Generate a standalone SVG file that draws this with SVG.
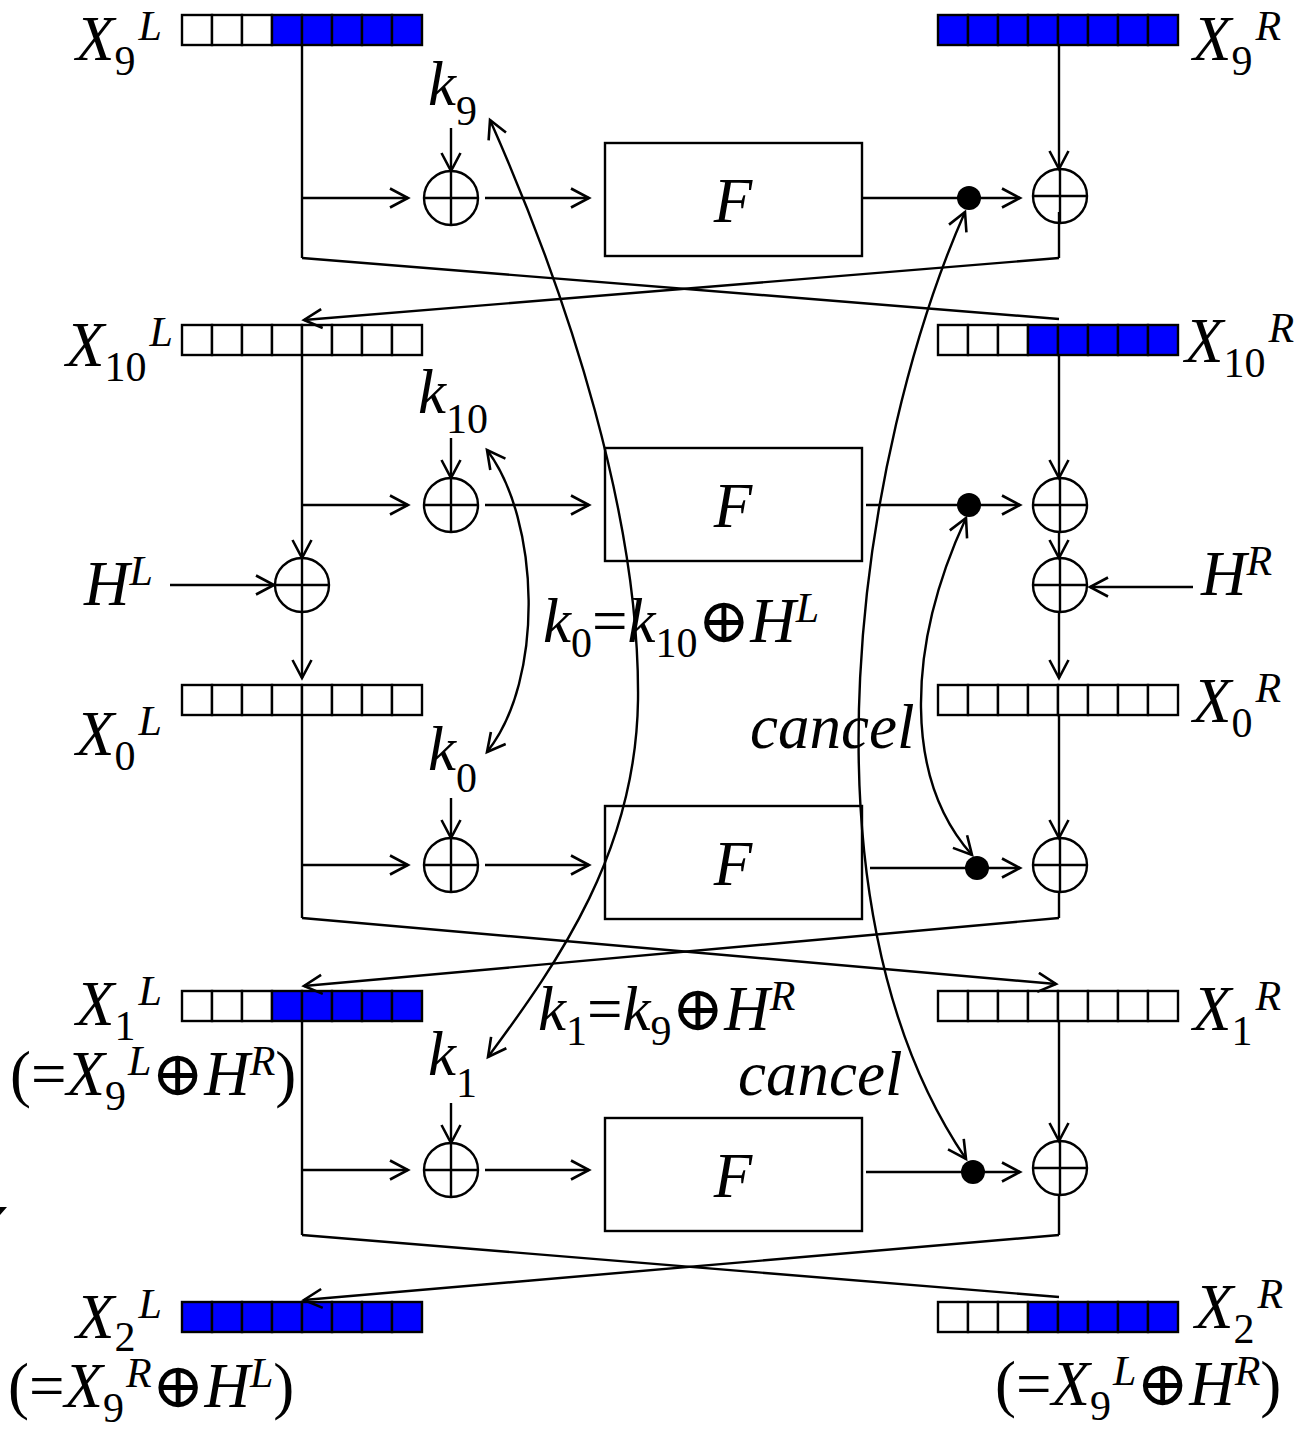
<svg xmlns="http://www.w3.org/2000/svg" width="1307" height="1432" viewBox="0 0 1307 1432">
<style>
.ln{stroke:#000;stroke-width:2.4;fill:none}
.ar{stroke:#000;stroke-width:2.4;fill:none;marker-end:url(#ah)}
.cv{stroke:#000;stroke-width:2.4;fill:none;marker-start:url(#ah);marker-end:url(#ah)}
.w{fill:#fff;stroke:#000;stroke-width:2.4}
.b{fill:#0000ff;stroke:#000;stroke-width:2.4}
.box{fill:#fff;stroke:#000;stroke-width:2.4}
.xo{fill:none;stroke:#000;stroke-width:2.4}
text{font-family:"Liberation Serif","DejaVu Serif",serif;fill:#000}
.m{font-size:63px;font-style:italic}
.r{font-style:normal}
.s{font-size:42px;font-style:normal}
.si{font-size:42px;font-style:italic}
</style>
<defs>
<marker id="ah" viewBox="0 0 22 22" refX="19" refY="11" markerWidth="22" markerHeight="22" markerUnits="userSpaceOnUse" orient="auto-start-reverse">
<path d="M1,1.5 L19,11 L1,20.5" fill="none" stroke="#000" stroke-width="2.6"/>
</marker>
<g id="xor"><circle r="27" class="xo"/><path d="M-27,0 H27 M0,-27 V27" class="xo"/></g>
<g id="w3"><rect x="0" width="30" height="30" class="w"/><rect x="30" width="30" height="30" class="w"/><rect x="60" width="30" height="30" class="w"/></g>
<g id="w5"><rect x="0" width="30" height="30" class="w"/><rect x="30" width="30" height="30" class="w"/><rect x="60" width="30" height="30" class="w"/><rect x="90" width="30" height="30" class="w"/><rect x="120" width="30" height="30" class="w"/></g>
<g id="b5"><rect x="0" width="30" height="30" class="b"/><rect x="30" width="30" height="30" class="b"/><rect x="60" width="30" height="30" class="b"/><rect x="90" width="30" height="30" class="b"/><rect x="120" width="30" height="30" class="b"/></g>
<g id="b3"><rect x="0" width="30" height="30" class="b"/><rect x="30" width="30" height="30" class="b"/><rect x="60" width="30" height="30" class="b"/></g>
</defs>
<rect width="1307" height="1432" fill="#fff"/>

<!-- registers -->
<g id="reg-X9L"><use href="#w3" x="182" y="15"/><use href="#b5" x="272" y="15"/>
<text class="m" x="76" y="60">X<tspan class="s" dy="15">9</tspan><tspan class="si" dx="3" dy="-35">L</tspan></text></g>
<g id="reg-X9R"><use href="#b3" x="938" y="15"/><use href="#b5" x="1028" y="15"/>
<text class="m" x="1193" y="60">X<tspan class="s" dy="15">9</tspan><tspan class="si" dx="3" dy="-35">R</tspan></text></g>
<g id="reg-X10L"><use href="#w3" x="182" y="325"/><use href="#w5" x="272" y="325"/>
<text class="m" x="66" y="366">X<tspan class="s" dy="15">10</tspan><tspan class="si" dx="3" dy="-35">L</tspan></text></g>
<g id="reg-X10R"><use href="#w3" x="938" y="325"/><use href="#b5" x="1028" y="325"/>
<text class="m" x="1185" y="362">X<tspan class="s" dy="15">10</tspan><tspan class="si" dx="3" dy="-35">R</tspan></text></g>
<g id="reg-X0L"><use href="#w3" x="182" y="685"/><use href="#w5" x="272" y="685"/>
<text class="m" x="76" y="755">X<tspan class="s" dy="15">0</tspan><tspan class="si" dx="3" dy="-35">L</tspan></text></g>
<g id="reg-X0R"><use href="#w3" x="938" y="685"/><use href="#w5" x="1028" y="685"/>
<text class="m" x="1193" y="722">X<tspan class="s" dy="15">0</tspan><tspan class="si" dx="3" dy="-35">R</tspan></text></g>
<g id="reg-X1L"><use href="#w3" x="182" y="991"/><use href="#b5" x="272" y="991"/>
<text class="m" x="76" y="1025">X<tspan class="s" dy="15">1</tspan><tspan class="si" dx="3" dy="-35">L</tspan></text>
<text class="m" x="10" y="1095"><tspan class="r">(=</tspan>X<tspan class="s" dy="15">9</tspan><tspan class="si" dx="2" dy="-35">L</tspan><tspan class="r" dy="20">⊕</tspan>H<tspan class="si" dy="-20">R</tspan><tspan class="r" dy="20">)</tspan></text></g>
<g id="reg-X1R"><use href="#w3" x="938" y="991"/><use href="#w5" x="1028" y="991"/>
<text class="m" x="1193" y="1030">X<tspan class="s" dy="15">1</tspan><tspan class="si" dx="3" dy="-35">R</tspan></text></g>
<g id="reg-X2L"><use href="#b3" x="182" y="1302"/><use href="#b5" x="272" y="1302"/>
<text class="m" x="76" y="1338">X<tspan class="s" dy="13">2</tspan><tspan class="si" dx="3" dy="-33">L</tspan></text>
<text class="m" x="8" y="1407"><tspan class="r">(=</tspan>X<tspan class="s" dy="15">9</tspan><tspan class="si" dx="2" dy="-35">R</tspan><tspan class="r" dy="20">⊕</tspan>H<tspan class="si" dy="-20">L</tspan><tspan class="r" dy="20">)</tspan></text></g>
<g id="reg-X2R"><use href="#w3" x="938" y="1302"/><use href="#b5" x="1028" y="1302"/>
<text class="m" x="1195" y="1328">X<tspan class="s" dy="15">2</tspan><tspan class="si" dx="3" dy="-35">R</tspan></text>
<text class="m" x="995" y="1405"><tspan class="r">(=</tspan>X<tspan class="s" dy="15">9</tspan><tspan class="si" dx="2" dy="-35">L</tspan><tspan class="r" dy="20">⊕</tspan>H<tspan class="si" dy="-20">R</tspan><tspan class="r" dy="20">)</tspan></text></g>

<!-- F boxes -->
<g id="F1"><rect x="605" y="143" width="257" height="113" class="box"/><text class="m" x="733" y="222" text-anchor="middle">F</text></g>
<g id="F2"><rect x="605" y="448" width="257" height="113" class="box"/><text class="m" x="733" y="527" text-anchor="middle">F</text></g>
<g id="F3"><rect x="605" y="806" width="257" height="113" class="box"/><text class="m" x="733" y="885" text-anchor="middle">F</text></g>
<g id="F4"><rect x="605" y="1118" width="257" height="113" class="box"/><text class="m" x="733" y="1197" text-anchor="middle">F</text></g>

<!-- XORs -->
<g id="xorL1"><use href="#xor" x="451" y="198"/></g>
<g id="xorR1"><use href="#xor" x="1060" y="196"/></g>
<g id="xorL2"><use href="#xor" x="451" y="505"/></g>
<g id="xorR2"><use href="#xor" x="1060" y="505"/></g>
<g id="xorHL"><use href="#xor" x="302" y="585"/></g>
<g id="xorHR"><use href="#xor" x="1060" y="585"/></g>
<g id="xorL3"><use href="#xor" x="451" y="865"/></g>
<g id="xorR3"><use href="#xor" x="1060" y="865"/></g>
<g id="xorL4"><use href="#xor" x="451" y="1170"/></g>
<g id="xorR4"><use href="#xor" x="1060" y="1168"/></g>

<!-- dots -->
<g id="dots">
<circle cx="969" cy="198" r="12"/>
<circle cx="969" cy="505" r="12"/>
<circle cx="977" cy="868" r="12"/>
<circle cx="973" cy="1172" r="12"/>
</g>

<!-- key labels -->
<g id="k9"><text class="m" x="428" y="105">k<tspan class="s" dy="20">9</tspan></text></g>
<g id="k10"><text class="m" x="418" y="413">k<tspan class="s" dy="20">10</tspan></text></g>
<g id="k0"><text class="m" x="428" y="770">k<tspan class="s" dy="22">0</tspan></text></g>
<g id="k1"><text class="m" x="428" y="1075">k<tspan class="s" dy="22">1</tspan></text></g>
<g id="HL"><text class="m" x="84" y="605">H<tspan class="si" dy="-20">L</tspan></text></g>
<g id="HR"><text class="m" x="1201" y="595">H<tspan class="si" dy="-20">R</tspan></text></g>
<g id="eq0"><text class="m" x="543" y="642">k<tspan class="s" dy="15">0</tspan><tspan class="r" dy="-15">=</tspan>k<tspan class="s" dy="15">10</tspan><tspan class="r" dy="-15">⊕</tspan>H<tspan class="si" dy="-20">L</tspan></text></g>
<g id="eq1"><text class="m" x="538" y="1030">k<tspan class="s" dy="15">1</tspan><tspan class="r" dy="-15">=</tspan>k<tspan class="s" dy="15">9</tspan><tspan class="r" dy="-15">⊕</tspan>H<tspan class="si" dy="-20">R</tspan></text></g>
<g id="cancel1"><text class="m" x="750" y="748">cancel</text></g>
<g id="cancel2"><text class="m" x="738" y="1095">cancel</text></g>

<!-- connectors -->
<g id="connectors">
<!-- round 1 -->
<path class="ln" d="M302,45 V258"/>
<path class="ar" d="M302,198 H408"/>
<path class="ar" d="M451,128 V171"/>
<path class="ar" d="M485,198 H589"/>
<path class="ln" d="M862,198 H960"/>
<path class="ar" d="M975,198 H1020"/>
<path class="ar" d="M1059,45 V169"/>
<path class="ln" d="M1059,212 V258"/>
<path class="ln" d="M302,258 L1059,319"/>
<path class="ar" d="M1059,258 L304,320"/>
<!-- round 2 -->
<path class="ar" d="M302,355 V558"/>
<path class="ar" d="M302,505 H408"/>
<path class="ar" d="M451,438 V478"/>
<path class="ar" d="M485,505 H589"/>
<path class="ln" d="M866,505 H960"/>
<path class="ar" d="M975,505 H1020"/>
<path class="ar" d="M1059,355 V478"/>
<path class="ar" d="M1059,532 V558"/>
<path class="ar" d="M1193,587 H1090"/>
<path class="ar" d="M170,585 H274"/>
<path class="ar" d="M302,612 V678"/>
<path class="ar" d="M1059,612 V678"/>
<!-- round 3 -->
<path class="ln" d="M302,715 V918"/>
<path class="ar" d="M302,865 H408"/>
<path class="ar" d="M451,798 V838"/>
<path class="ar" d="M485,865 H589"/>
<path class="ln" d="M870,868 H968"/>
<path class="ar" d="M983,868 H1020"/>
<path class="ar" d="M1059,715 V838"/>
<path class="ln" d="M1059,892 V918"/>
<path class="ar" d="M302,918 L1056,984"/>
<path class="ar" d="M1059,918 L304,986"/>
<!-- round 4 -->
<path class="ln" d="M302,1020 V1235"/>
<path class="ar" d="M302,1170 H408"/>
<path class="ar" d="M451,1103 V1143"/>
<path class="ar" d="M485,1170 H589"/>
<path class="ln" d="M866,1172 H964"/>
<path class="ar" d="M980,1172 H1020"/>
<path class="ar" d="M1059,1020 V1141"/>
<path class="ln" d="M1059,1195 V1235"/>
<path class="ln" d="M302,1235 L1059,1297"/>
<path class="ar" d="M1059,1235 L304,1300"/>
<!-- curves -->
<path class="cv" d="M490,120 C570,300 640,520 638,700 C636,850 560,960 488,1057"/>
<path class="cv" d="M487,450 C540,520 545,680 487,752"/>
<path class="cv" d="M965,212 C860,450 790,900 966,1159"/>
<path class="cv" d="M966,518 C905,650 905,780 972,855"/>
</g>
<polygon points="0,1207 7,1207 0,1215" fill="#000"/>
</svg>
